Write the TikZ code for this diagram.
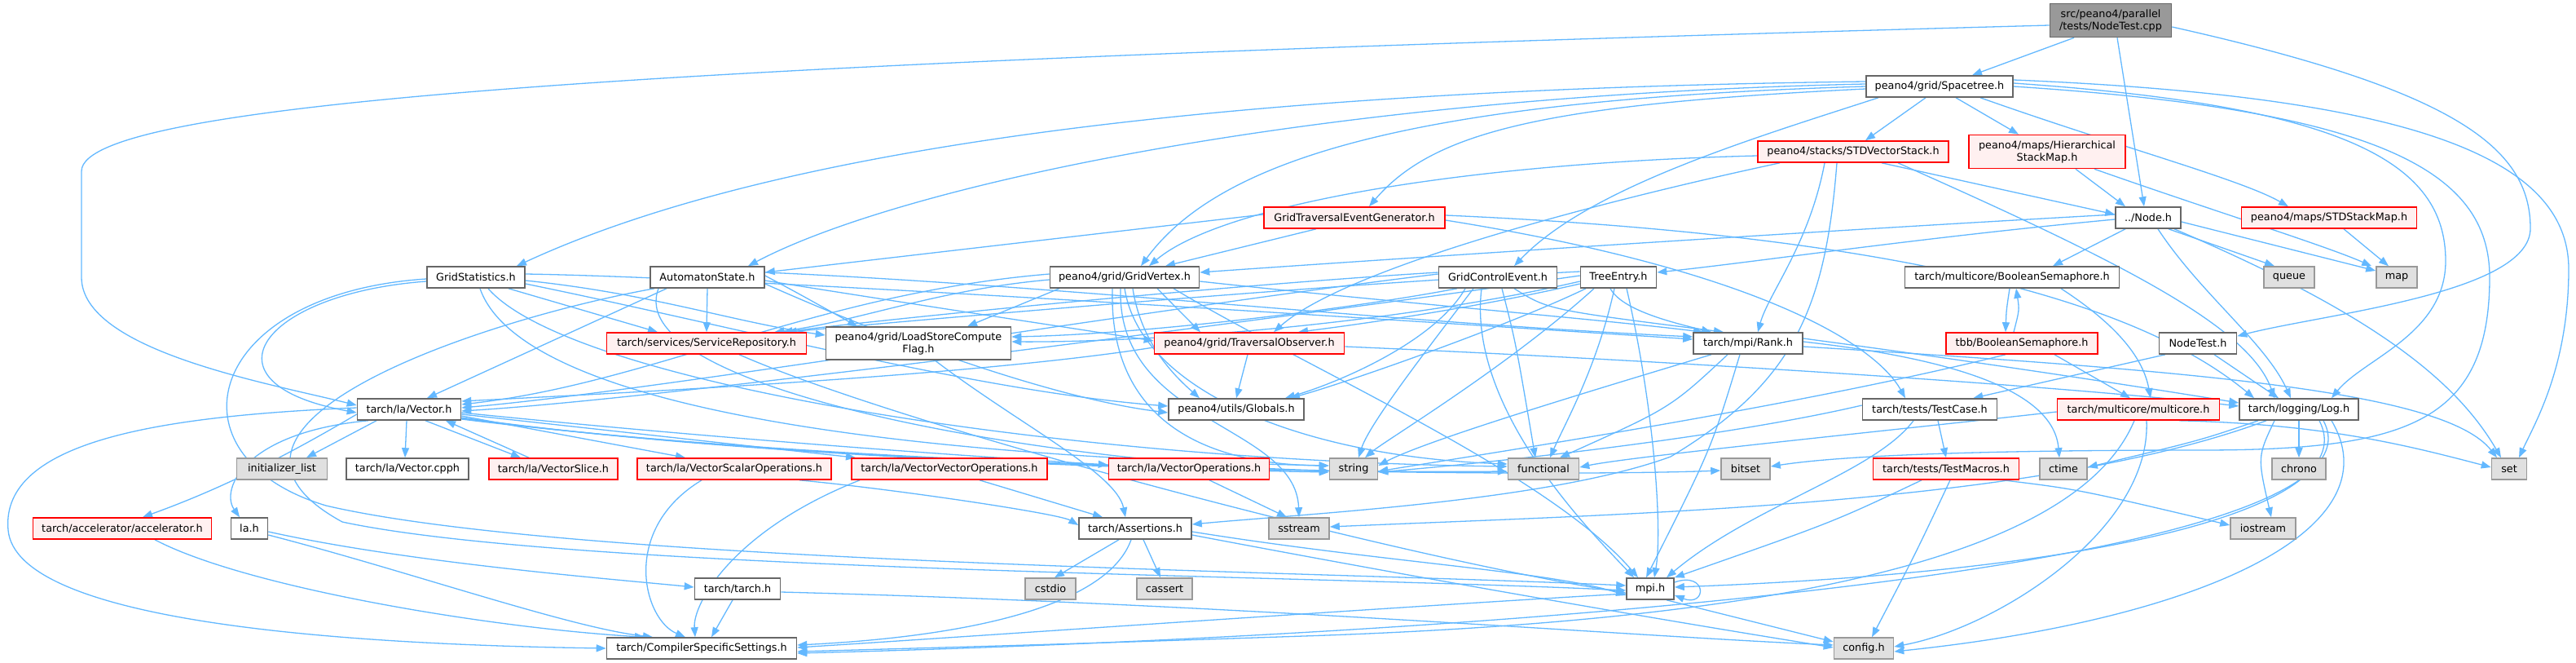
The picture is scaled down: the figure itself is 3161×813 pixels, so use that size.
\documentclass[tikz,border=0pt]{standalone}
\usepackage{fontspec}
\usetikzlibrary{arrows.meta, backgrounds}
\newfontfamily\dxfont{DejaVu Sans}
\definecolor{incblue}{HTML}{63B8FF}
\definecolor{hdrgrey}{HTML}{666666}
\definecolor{hdrred}{HTML}{FF0000}
\definecolor{hdrredfill}{HTML}{FFF0F0}
\definecolor{sysgrey}{HTML}{999999}
\definecolor{sysfill}{HTML}{E0E0E0}
\definecolor{rootfill}{HTML}{999999}
\tikzset{
  inc/.style={draw=incblue, line width=1.3pt, -{Triangle[length=12pt,width=9pt]}},
  hdr/.style={rectangle, draw=hdrgrey, fill=white, line width=1.6pt, minimum height=26pt,
              inner sep=0pt, align=center, font=\dxfont\fontsize{12.8pt}{15pt}\selectfont},
  hdrr/.style={hdr, draw=hdrred, fill=hdrredfill},
  sys/.style={hdr, draw=sysgrey, fill=sysfill},
  root/.style={hdr, fill=rootfill, minimum height=41pt},
}

\begin{document}
\begin{tikzpicture}[x=1pt, y=-1pt]
\useasboundingbox (0,0) rectangle (3161,813);

% files
\node[root, minimum width=149pt] (ntcpp) at (2590,25) {src/peano4/parallel\\/tests/NodeTest.cpp};
\node[hdr, minimum width=180pt] (spacetree) at (2380,106) {peano4/grid/Spacetree.h};
\node[hdrr, minimum width=234pt] (stdvec) at (2274,186) {peano4/stacks/STDVectorStack.h};
\node[hdrr, minimum width=192pt, minimum height=41pt] (hiermap) at (2512,186) {peano4/maps/Hierarchical\\StackMap.h};
\node[hdrr, minimum width=222pt] (gridtrav) at (1662,267) {GridTraversalEventGenerator.h};
\node[hdr, minimum width=80pt] (nodeh) at (2636,267) {../Node.h};
\node[hdrr, minimum width=215pt] (stdmap) at (2858,267) {peano4/maps/STDStackMap.h};
\node[hdr, minimum width=120pt] (gridstats) at (584,340) {GridStatistics.h};
\node[hdr, minimum width=140pt] (automaton) at (868,340) {AutomatonState.h};
\node[hdr, minimum width=183pt] (gridvertex) at (1380,340) {peano4/grid/GridVertex.h};
\node[hdr, minimum width=145pt] (gridcontrol) at (1838,340) {GridControlEvent.h};
\node[hdr, minimum width=93pt] (treeentry) at (1986,340) {TreeEntry.h};
\node[hdr, minimum width=263pt] (boolsem) at (2469,340) {tarch/multicore/BooleanSemaphore.h};
\node[sys, minimum width=62pt] (nqueue) at (2809,340) {queue};
\node[sys, minimum width=50pt] (nmap) at (2941,340) {map};
\node[hdrr, minimum width=245pt] (servrepo) at (867,421) {tarch/services/ServiceRepository.h};
\node[hdr, minimum width=227pt, minimum height=40pt] (loadstore) at (1127,421) {peano4/grid/LoadStoreCompute\\Flag.h};
\node[hdrr, minimum width=233pt] (travobs) at (1533,421) {peano4/grid/TraversalObserver.h};
\node[hdr, minimum width=134pt] (rank) at (2145,421) {tarch/mpi/Rank.h};
\node[hdrr, minimum width=186pt] (tbbsem) at (2481,421) {tbb/BooleanSemaphore.h};
\node[hdr, minimum width=95pt] (nodetesth) at (2697,421) {NodeTest.h};
\node[hdr, minimum width=127pt] (vector) at (502,502) {tarch/la/Vector.h};
\node[hdr, minimum width=166pt] (globals) at (1517,502) {peano4/utils/Globals.h};
\node[hdr, minimum width=165pt] (testcase) at (2368,502) {tarch/tests/TestCase.h};
\node[hdrr, minimum width=199pt] (multicore) at (2624,502) {tarch/multicore/multicore.h};
\node[hdr, minimum width=146pt] (log) at (2821,502) {tarch/logging/Log.h};
\node[sys, minimum width=111pt] (ninitlist) at (346,575) {initializer\_list};
\node[hdr, minimum width=150pt] (vcpph) at (500,575) {tarch/la/Vector.cpph};
\node[hdrr, minimum width=158pt] (vslice) at (679,575) {tarch/la/VectorSlice.h};
\node[hdrr, minimum width=238pt] (vscalar) at (901,575) {tarch/la/VectorScalarOperations.h};
\node[hdrr, minimum width=240pt] (vvec) at (1165,575) {tarch/la/VectorVectorOperations.h};
\node[hdrr, minimum width=197pt] (vops) at (1459,575) {tarch/la/VectorOperations.h};
\node[sys, minimum width=59pt] (nstring) at (1661,575) {string};
\node[sys, minimum width=87pt] (nfunctional) at (1894,575) {functional};
\node[sys, minimum width=60pt] (nbitset) at (2142,575) {bitset};
\node[hdrr, minimum width=179pt] (testmacros) at (2388,575) {tarch/tests/TestMacros.h};
\node[sys, minimum width=58pt] (nctime) at (2532,575) {ctime};
\node[sys, minimum width=66pt] (nchrono) at (2821,575) {chrono};
\node[sys, minimum width=43pt] (nset) at (3079,575) {set};
\node[hdrr, minimum width=219pt] (accel) at (150,648) {tarch/accelerator/accelerator.h};
\node[hdr, minimum width=45pt] (lah) at (306,648) {la.h};
\node[hdr, minimum width=138pt] (assertions) at (1393,648) {tarch/Assertions.h};
\node[sys, minimum width=74pt] (nsstream) at (1594,648) {sstream};
\node[sys, minimum width=80pt] (niostream) at (2777,648) {iostream};
\node[hdr, minimum width=105pt] (tarchh) at (905,722) {tarch/tarch.h};
\node[sys, minimum width=62pt] (ncstdio) at (1289,722) {cstdio};
\node[sys, minimum width=68pt] (ncassert) at (1429,722) {cassert};
\node[hdr, minimum width=58pt] (mpih) at (2025,722) {mpi.h};
\node[hdr, minimum width=233pt] (compiler) at (861,795) {tarch/CompilerSpecificSettings.h};
\node[sys, minimum width=73pt] (nconfig) at (2287,795) {config.h};

\begin{scope}[on background layer]
% NodeTest.cpp
\draw[inc] ([xshift=-45pt]ntcpp.south) -- ([xshift=40pt]spacetree.north);
\draw[inc] ([xshift=8pt]ntcpp.south) -- ([xshift=-5pt]nodeh.north);
\draw[inc] ([yshift=-8pt]ntcpp.east) .. controls (3010,110) and (3105,180) .. (3105,280) .. controls (3105,360) and (2850,385) .. ([yshift=-5pt]nodetesth.north east);
\draw[inc] ([yshift=-6pt]ntcpp.west) .. controls (900,75) and (100,120) .. (100,210) -- (100,340) .. controls (100,430) and (330,470) .. ([yshift=5pt]vector.west);

% Spacetree.h
\draw[inc] ([yshift=6pt]spacetree.west) .. controls (1500,110) and (950,180) .. ([xshift=50pt]gridstats.north);
\draw[inc] ([yshift=3pt]spacetree.west) .. controls (1600,118) and (1100,230) .. ([xshift=50pt]automaton.north);
\draw[inc] (spacetree.west) .. controls (1750,122) and (1500,190) .. ([xshift=20pt]gridvertex.north);
\draw[inc] ([yshift=-3pt]spacetree.west) .. controls (1900,128) and (1760,160) .. ([xshift=18pt]gridtrav.north);
\draw[inc] ([xshift=-75pt]spacetree.south) .. controls (2150,170) and (1950,230) .. ([xshift=20pt]gridcontrol.north);
\draw[inc] ([xshift=-17pt]spacetree.south) -- ([xshift=15pt]stdvec.north);
\draw[inc] ([xshift=20pt]spacetree.south) -- ([xshift=-35pt]hiermap.north);
\draw[inc] ([xshift=50pt]spacetree.south) .. controls (2600,180) and (2750,220) .. ([xshift=-50pt]stdmap.north);
\draw[inc] ([yshift=4pt]spacetree.east) .. controls (2880,130) and (3001,200) .. (3001,320) .. controls (3001,410) and (2900,440) .. ([xshift=40pt]log.north);
\draw[inc] ([yshift=8pt]spacetree.east) .. controls (2950,118) and (3152,190) .. (3152,330) .. controls (3152,450) and (3110,520) .. ([xshift=12pt]nset.north);
\draw[inc] (spacetree.east) .. controls (2920,135) and (3055,210) .. (3055,340) .. controls (3055,520) and (2950,552) .. (2700,552) .. controls (2400,552) and (2250,560) .. ([yshift=3pt]nbitset.east);

% STDVectorStack.h
\draw[inc] ([yshift=-5pt]stdvec.west) .. controls (1800,200) and (1500,250) .. ([xshift=30pt]gridvertex.north);
\draw[inc] ([xshift=-90pt]stdvec.south) .. controls (1950,250) and (1650,330) .. ([xshift=30pt]travobs.north);
\draw[inc] ([xshift=-35pt]stdvec.south) .. controls (2220,300) and (2170,360) .. ([xshift=12pt]rank.north);
\draw[inc] ([xshift=35pt]stdvec.south) -- ([yshift=4pt]nodeh.west);
\draw[inc] ([xshift=55pt]stdvec.south) .. controls (2600,320) and (2760,400) .. ([xshift=-30pt]log.north);
\draw[inc] ([xshift=-20pt]stdvec.south) .. controls (2240,380) and (2200,470) .. (2050,560) .. controls (1900,615) and (1600,630) .. ([yshift=5pt]assertions.east);

% stack maps
\draw[inc] ([xshift=35pt]hiermap.south) -- ([xshift=-28pt]nodeh.north);
\draw[inc] ([xshift=58pt]hiermap.south) .. controls (2720,260) and (2850,300) .. ([xshift=-5pt]nmap.north west);
\draw[inc] ([xshift=18pt]stdmap.south) -- ([xshift=-10pt]nmap.north);

% Node.h
\draw[inc] ([yshift=4pt]nodeh.west) .. controls (2200,285) and (1700,318) .. ([yshift=6pt]gridvertex.east);
\draw[inc] ([yshift=-2pt]nodeh.west) .. controls (2350,292) and (2150,322) .. ([yshift=6pt]treeentry.east);
\draw[inc] ([xshift=-28pt]nodeh.south) -- ([xshift=50pt]boolsem.north);
\draw[inc] ([xshift=25pt]nodeh.south) -- ([xshift=-18pt]nqueue.north);
\draw[inc] ([yshift=-5pt]nodeh.east) -- ([yshift=8pt]nmap.west);
\draw[inc] ([xshift=12pt]nodeh.south) .. controls (2700,360) and (2780,420) .. ([xshift=-10pt]log.north);
\draw[inc] ([xshift=32pt]nodeh.south) .. controls (2900,380) and (3010,460) .. ([xshift=-10pt]nset.north);

% semaphores
\draw[inc] ([xshift=-3pt]boolsem.south) .. controls (2462,380) .. ([xshift=-20pt]tbbsem.north);
\draw[inc] ([xshift=-10pt]tbbsem.north) .. controls (2478,380) .. ([xshift=5pt]boolsem.south);
\draw[inc] ([xshift=60pt]boolsem.south) .. controls (2600,400) and (2630,440) .. ([xshift=15pt]multicore.north);
\draw[inc] ([xshift=40pt]tbbsem.south) -- ([xshift=-10pt]multicore.north);
\draw[inc] ([xshift=-20pt]tbbsem.south) .. controls (2200,500) and (1800,560) .. ([yshift=-3pt]nstring.east);

% GridTraversalEventGenerator.h
\draw[inc] ([yshift=4pt]gridtrav.west) -- ([yshift=6pt]automaton.east);
\draw[inc] ([xshift=-47pt]gridtrav.south) -- ([xshift=50pt]gridvertex.north);
\draw[inc] ([yshift=3pt]gridtrav.east) .. controls (2250,285) and (2600,350) .. ([xshift=-55pt]log.north);
\draw[inc] ([yshift=-3pt]gridtrav.east) .. controls (2150,330) and (2300,420) .. ([xshift=-30pt]testcase.north);

% GridStatistics.h
\draw[inc] ([yshift=-5pt]gridstats.west) .. controls (320,360) and (240,470) .. ([yshift=-4pt]vector.west);
\draw[inc] ([yshift=-2pt]gridstats.west) .. controls (250,360) and (200,560) .. (400,620) .. controls (700,690) and (1600,700) .. ([yshift=4pt]mpih.west);
\draw[inc] ([xshift=40pt]gridstats.south) -- ([xshift=-60pt]servrepo.north);
\draw[inc] ([yshift=-4pt]gridstats.east) .. controls (800,360) and (900,395) .. ([yshift=10pt]loadstore.west);
\draw[inc] ([yshift=4pt]gridstats.east) .. controls (900,340) and (1600,385) .. ([yshift=5pt]rank.west);
\draw[inc] ([yshift=-8pt]gridstats.east) .. controls (900,400) and (1200,480) .. ([yshift=4pt]globals.west);
\draw[inc] ([xshift=5pt]gridstats.south) .. controls (640,500) and (1100,560) .. ([yshift=4pt]nstring.west);
\draw[inc] ([xshift=15pt]gridstats.south) .. controls (700,470) and (1300,565) .. ([yshift=3pt]nfunctional.west);

% AutomatonState.h
\draw[inc] ([xshift=-50pt]automaton.south) -- ([xshift=22pt]vector.north);
\draw[inc] (automaton.south) -- (servrepo.north);
\draw[inc] ([yshift=2pt]automaton.east) .. controls (980,360) .. ([xshift=-75pt]loadstore.north);
\draw[inc] ([yshift=-4pt]automaton.east) .. controls (1100,370) and (1300,400) .. ([yshift=3pt]travobs.west);
\draw[inc] ([yshift=6pt]automaton.east) .. controls (1300,350) and (1700,395) .. ([yshift=8pt]rank.west);
\draw[inc] ([yshift=-8pt]automaton.east) .. controls (1100,420) and (1300,490) .. ([yshift=-4pt]globals.west);
\draw[inc] ([xshift=-60pt]automaton.south) .. controls (760,480) and (1300,570) .. ([yshift=-2pt]nstring.west);
\draw[inc] ([xshift=-65pt]automaton.south) .. controls (600,390) and (200,520) .. (420,640) .. controls (700,700) and (1600,705) .. ([yshift=-2pt]mpih.west);

% GridVertex.h
\draw[inc] ([yshift=4pt]gridvertex.west) .. controls (1000,360) and (800,470) .. ([yshift=6pt]vector.east);
\draw[inc] ([yshift=-3pt]gridvertex.west) .. controls (1150,355) and (1050,395) .. ([xshift=-40pt]servrepo.north east);
\draw[inc] ([xshift=-80pt]gridvertex.south) -- ([xshift=60pt]loadstore.north);
\draw[inc] ([xshift=40pt]gridvertex.south) -- ([xshift=-60pt]travobs.north);
\draw[inc] ([xshift=10pt]gridvertex.south) .. controls (1400,420) and (1440,460) .. ([xshift=-45pt]globals.north);
\draw[inc] ([yshift=-5pt]gridvertex.east) .. controls (1700,370) and (1950,390) .. ([xshift=-55pt]rank.north);
\draw[inc] ([xshift=-15pt]gridvertex.south) .. controls (1360,530) and (1500,570) .. ([yshift=4pt]nstring.west);
\draw[inc] ([xshift=-5pt]gridvertex.south) .. controls (1370,520) and (1590,520) .. (nsstream.north);
\draw[inc] ([xshift=0pt]gridvertex.south) .. controls (1400,480) and (1600,560) .. ([yshift=6pt]nfunctional.west);
\draw[inc] ([xshift=60pt]gridvertex.south) .. controls (1600,450) and (1900,580) .. ([xshift=-15pt]mpih.north);

% GridControlEvent.h
\draw[inc] ([yshift=4pt]gridcontrol.west) .. controls (1400,380) and (800,480) .. ([yshift=2pt]vector.east);
\draw[inc] ([yshift=6pt]gridcontrol.west) .. controls (1500,350) and (1100,390) .. ([xshift=-30pt]servrepo.north east);
\draw[inc] ([xshift=-50pt]gridcontrol.south) .. controls (1650,380) and (1400,410) .. ([yshift=8pt]loadstore.east);
\draw[inc] ([xshift=20pt]gridcontrol.south) .. controls (1900,380) .. ([xshift=-30pt]rank.north);
\draw[inc] ([xshift=-30pt]gridcontrol.south) .. controls (1750,430) and (1680,520) .. ([xshift=6pt]nstring.north);
\draw[inc] ([xshift=5pt]gridcontrol.south) .. controls (1860,420) .. ([xshift=-10pt]nfunctional.north);
\draw[inc] ([xshift=-20pt]gridcontrol.south) .. controls (1800,500) and (1950,650) .. ([xshift=-20pt]mpih.north);
\draw[inc] ([xshift=-40pt]gridcontrol.south) .. controls (1760,420) and (1640,470) .. ([xshift=60pt]globals.north);

% TreeEntry.h
\draw[inc] ([yshift=2pt]treeentry.west) .. controls (1500,400) and (800,490) .. ([yshift=-2pt]vector.east);
\draw[inc] ([yshift=7pt]treeentry.west) .. controls (1600,350) and (1100,395) .. ([xshift=-25pt]servrepo.north east);
\draw[inc] ([yshift=-5pt]treeentry.west) .. controls (1700,400) and (1400,420) .. ([yshift=2pt]loadstore.east);
\draw[inc] ([yshift=-8pt]treeentry.west) .. controls (1800,380) and (1650,400) .. ([xshift=60pt]travobs.north);
\draw[inc] ([xshift=-10pt]treeentry.south) .. controls (1990,380) and (2050,395) .. ([xshift=-45pt]rank.north);
\draw[inc] ([xshift=-30pt]treeentry.south) .. controls (1850,450) and (1700,540) .. ([xshift=14pt]nstring.north);
\draw[inc] ([xshift=-5pt]treeentry.south) .. controls (1960,450) and (1920,520) .. ([xshift=8pt]nfunctional.north);
\draw[inc] ([xshift=10pt]treeentry.south) .. controls (2030,500) and (2040,650) .. ([xshift=5pt]mpih.north);
\draw[inc] ([xshift=-40pt]treeentry.south) .. controls (1850,400) and (1650,470) .. ([xshift=66pt]globals.north);

% ServiceRepository.h, LoadStoreComputeFlag.h, TraversalObserver.h
\draw[inc] ([xshift=40pt]servrepo.south) .. controls (1100,520) and (1700,680) .. ([yshift=-5pt]mpih.west);
\draw[inc] ([xshift=20pt]loadstore.south) .. controls (1250,520) and (1370,580) .. ([xshift=-12pt]assertions.north);
\draw[inc] ([xshift=-2pt]travobs.south) -- (globals.north);
\draw[inc] ([yshift=-5pt]travobs.west) .. controls (1200,460) and (800,480) .. ([yshift=10pt]vector.east);
\draw[inc] ([yshift=-4pt]travobs.east) .. controls (2000,440) and (2500,470) .. ([yshift=4pt]log.west);

% Rank.h
\draw[inc] ([xshift=-25pt]rank.south) .. controls (2050,500) .. ([xshift=20pt]nfunctional.north);
\draw[inc] ([xshift=-45pt]rank.south) .. controls (1950,480) and (1750,540) .. ([yshift=4pt]nstring.east);
\draw[inc] ([xshift=-10pt]rank.south) .. controls (2100,550) .. ([xshift=-5pt]mpih.north);
\draw[inc] ([yshift=6pt]rank.east) .. controls (2400,440) and (2600,470) .. ([yshift=8pt]log.west);
\draw[inc] ([yshift=2pt]rank.east) .. controls (2400,440) and (2520,480) .. ([xshift=-5pt]nctime.north);
\draw[inc] ([yshift=-4pt]rank.east) .. controls (2700,455) and (3000,480) .. ([xshift=-15pt]nset.north);

% TestCase.h, TestMacros.h, NodeTest.h
\draw[inc] ([xshift=10pt]testcase.south) -- (testmacros.north);
\draw[inc] ([yshift=5pt]testcase.west) .. controls (2100,540) and (1800,570) .. ([yshift=-4pt]nstring.east);
\draw[inc] ([xshift=-20pt]testcase.south) .. controls (2300,580) and (2150,620) .. ([xshift=20pt]mpih.north);
\draw[inc] ([xshift=-30pt]testmacros.south) .. controls (2250,640) .. (mpih.north east);
\draw[inc] ([xshift=70pt]testmacros.south) .. controls (2550,600) .. ([yshift=4pt]niostream.west);
\draw[inc] ([xshift=5pt]testmacros.south) .. controls (2350,680) .. ([xshift=10pt]nconfig.north);
\draw[inc] ([xshift=-40pt]nodetesth.south) -- ([xshift=-30pt]testcase.north east);
\draw[inc] ([xshift=20pt]nodetesth.south) -- ([xshift=-25pt]log.north);

% multicore.h
\draw[inc] ([xshift=10pt]multicore.south) .. controls (2640,650) and (2450,770) .. ([yshift=2pt]nconfig.east);
\draw[inc] ([xshift=-5pt]multicore.south) .. controls (2550,680) and (2200,760) .. (1600,780) .. controls (1300,790) .. ([yshift=-4pt]compiler.east);
\draw[inc] ([xshift=50pt]multicore.south) .. controls (2850,520) and (2950,545) .. ([yshift=2pt]nset.west);
\draw[inc] ([yshift=-3pt]multicore.west) .. controls (2300,530) and (2000,560) .. ([yshift=2pt]nfunctional.east);

% Log.h
\draw[inc] (log.south) -- (nchrono.north);
\draw[inc] ([xshift=-30pt]log.south) .. controls (2770,560) .. ([xshift=10pt]niostream.north);
\draw[inc] ([xshift=-50pt]log.south) .. controls (2700,540) .. ([yshift=2pt]nctime.east);
\draw[inc] ([xshift=-40pt]log.south) .. controls (2500,620) and (2000,630) .. ([yshift=2pt]nsstream.east);
\draw[inc] ([xshift=25pt]log.south) .. controls (2900,620) and (2600,700) .. ([yshift=2pt]mpih.east);
\draw[inc] ([xshift=40pt]log.south) .. controls (2940,650) and (2700,760) .. ([yshift=-4pt]nconfig.east);
\draw[inc] ([xshift=30pt]log.south) .. controls (2950,700) and (1800,780) .. ([yshift=-6pt]compiler.east);

% Vector.h
\draw[inc] ([xshift=-40pt]vector.south) -- ([xshift=30pt]ninitlist.north);
\draw[inc] ([xshift=-3pt]vector.south) -- ([xshift=-3pt]vcpph.north);
\draw[inc] ([xshift=20pt]vector.south) -- ([xshift=-40pt]vslice.north);
\draw[inc] ([xshift=-30pt]vslice.north) -- ([xshift=45pt]vector.south);
\draw[inc] ([yshift=-8pt]vector.east) -- ([xshift=-60pt]vscalar.north);
\draw[inc] ([yshift=-6pt]vector.east) -- ([xshift=-115pt]vvec.north);
\draw[inc] ([yshift=-4pt]vector.east) .. controls (900,540) and (1200,560) .. ([yshift=5pt]vops.west);
\draw[inc] ([yshift=-6pt]vector.west) .. controls (350,560) and (270,600) .. ([xshift=25pt]accel.north);
\draw[inc] ([xshift=-50pt]vector.south) .. controls (300,530) and (270,600) .. ([xshift=-12pt]lah.north);
\draw[inc] ([yshift=2pt]vector.west) .. controls (200,510) and (0,540) .. (10,650) .. controls (20,760) and (400,790) .. (compiler.west);
\draw[inc] ([yshift=-10pt]vector.east) .. controls (900,560) and (1400,575) .. ([yshift=-4pt]nstring.west);
\draw[inc] ([yshift=-11pt]vector.east) .. controls (1000,570) and (1600,580) .. ([yshift=-3pt]nfunctional.west);
\draw[inc] ([yshift=-12pt]vector.east) .. controls (1100,580) and (1900,585) .. ([yshift=-2pt]nbitset.west);

% vector operations
\draw[inc] ([xshift=-40pt]vscalar.south) .. controls (760,650) and (790,760) .. ([xshift=-20pt]compiler.north);
\draw[inc] ([xshift=80pt]vscalar.south) .. controls (1100,600) and (1300,630) .. ([yshift=4pt]assertions.west);
\draw[inc] ([xshift=37pt]vvec.south) -- ([xshift=-40pt]assertions.north);
\draw[inc] ([xshift=-110pt]vvec.south) .. controls (900,650) and (850,740) .. ([xshift=-8pt]compiler.north);
\draw[inc] ([xshift=25pt]vops.south) -- ([xshift=-15pt]nsstream.north);

% accelerator.h, la.h, tarch.h
\draw[inc] ([xshift=40pt]accel.south) .. controls (300,720) and (600,770) .. ([xshift=-70pt]compiler.north);
\draw[inc] ([yshift=-4pt]lah.east) .. controls (500,690) and (750,710) .. ([yshift=2pt]tarchh.west);
\draw[inc] ([yshift=-8pt]lah.east) .. controls (500,700) and (700,770) .. ([xshift=-60pt]compiler.north);
\draw[inc] ([xshift=-6pt]tarchh.south) -- ([xshift=12pt]compiler.north);
\draw[inc] ([yshift=-4pt]tarchh.east) .. controls (1500,740) and (2000,780) .. ([yshift=4pt]nconfig.west);

% Assertions.h
\draw[inc] ([xshift=-20pt]assertions.south) -- ([xshift=5pt]ncstdio.north);
\draw[inc] ([xshift=10pt]assertions.south) -- ([xshift=-5pt]ncassert.north);
\draw[inc] ([xshift=-5pt]assertions.south) .. controls (1360,740) and (1200,780) .. ([yshift=4pt]compiler.east);
\draw[inc] ([yshift=-4pt]assertions.east) .. controls (1700,690) and (1900,700) .. ([yshift=-8pt]mpih.west);
\draw[inc] ([yshift=-8pt]assertions.east) .. controls (1800,720) and (2100,770) .. ([yshift=1pt]nconfig.west);

% mpi.h
\draw[inc] ([yshift=8pt]mpih.east) .. controls (2095,700) and (2095,745) .. ([yshift=-8pt]mpih.east);
\draw[inc] ([xshift=20pt]mpih.south) -- ([yshift=8pt]nconfig.west);
\draw[inc] ([yshift=-6pt]mpih.west) .. controls (1700,745) and (1200,780) .. ([yshift=1pt]compiler.east);
\end{scope}
\end{tikzpicture}
\end{document}
